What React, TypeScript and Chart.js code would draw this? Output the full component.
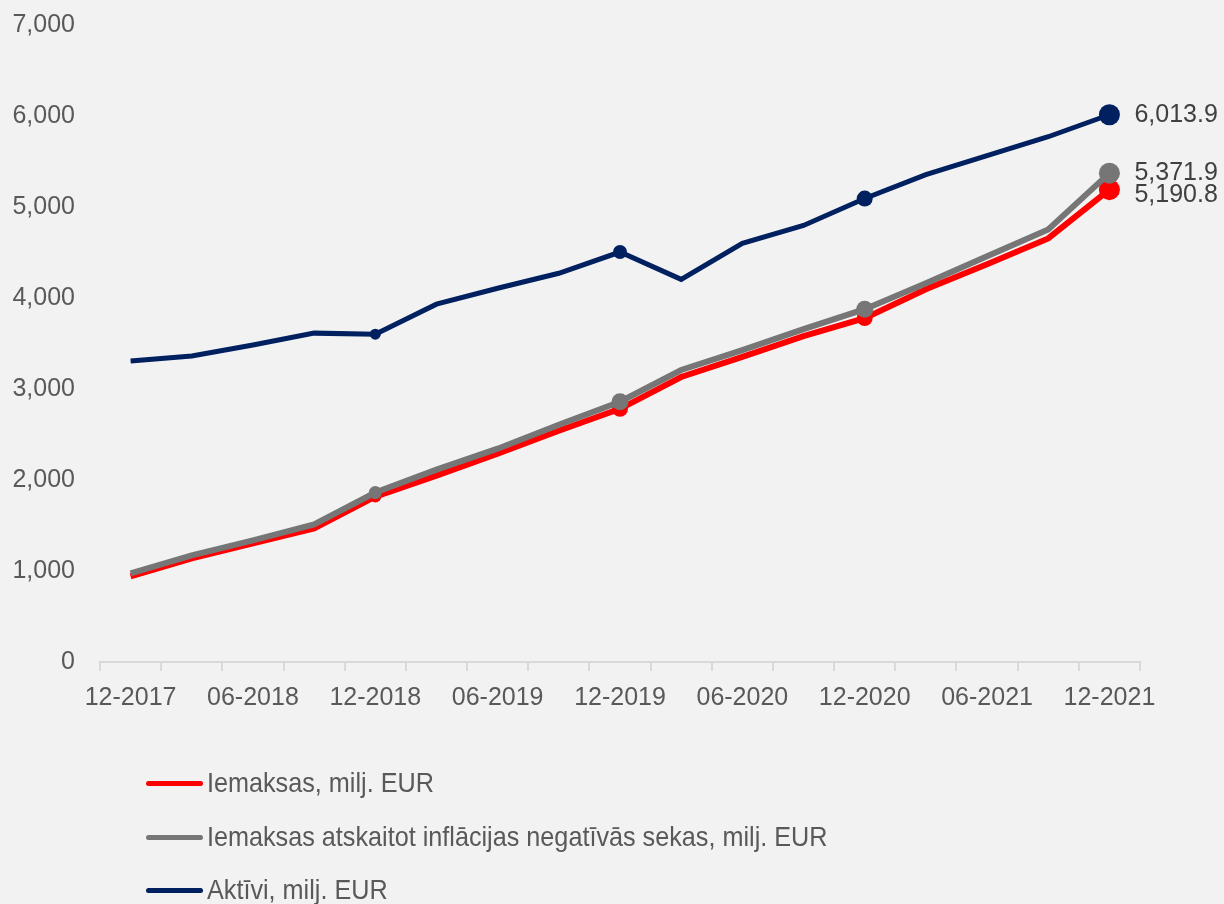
import React, { useEffect, useRef } from "react";
import { Chart, registerables } from "chart.js";

Chart.register(...registerables);

const categories = [
  "12-2017", "03-2018", "06-2018", "09-2018", "12-2018", "03-2019", "06-2019", "09-2019",
  "12-2019", "03-2020", "06-2020", "09-2020", "12-2020", "03-2021", "06-2021", "09-2021", "12-2021",
];
const iemaksas = [942, 1139, 1303, 1468, 1818, 2048, 2289, 2541, 2782, 3132, 3352, 3580, 3779, 4096, 4370, 4655, 5190.8];
const iemaksasInfl = [975, 1172, 1336, 1511, 1862, 2114, 2344, 2607, 2860, 3209, 3428, 3658, 3877, 4162, 4458, 4754, 5371.9];
const aktivi = [3308, 3363, 3483, 3614, 3603, 3932, 4107, 4272, 4505, 4205, 4600, 4797, 5093, 5356, 5564, 5772, 6013.9];

const seriesNames = [
  "Iemaksas, milj. EUR",
  "Iemaksas atskaitot inflācijas negatīvās sekas, milj. EUR",
  "Aktīvi, milj. EUR",
];
const seriesColors = ["#ff0000", "#767676", "#002060"];
const yTicks = [0, 1000, 2000, 3000, 4000, 5000, 6000, 7000];

const fmt = (v: number, d = 0) =>
  v.toLocaleString("en-US", { minimumFractionDigits: d, maximumFractionDigits: d });

const radii = (small: number, mid: number, mid2: number, big: number) =>
  categories.map((_, i) => (i === 4 ? small : i === 8 ? mid : i === 12 ? mid2 : i === 16 ? big : 0));

const labelOffsets = [5, 0, 0];

const endLabels = {
  id: "endLabels",
  afterDatasetsDraw(chart: any) {
    const ctx = chart.ctx;
    ctx.save();
    ctx.font = "25px 'Liberation Sans', Arial, sans-serif";
    ctx.fillStyle = "#404040";
    ctx.textAlign = "left";
    ctx.textBaseline = "middle";
    chart.data.datasets.forEach((ds: any, di: number) => {
      const meta = chart.getDatasetMeta(di);
      const last = meta.data[meta.data.length - 1];
      const v = ds.data[ds.data.length - 1];
      ctx.fillText(fmt(v, 1), last.x + 25, last.y + labelOffsets[di]);
    });
    ctx.restore();
  },
};

export default function App() {
  const ref = useRef<HTMLCanvasElement>(null);
  useEffect(() => {
    if (!ref.current) return;
    const tickFont = { family: "'Liberation Sans', Arial, sans-serif", size: 25 };
    const chart = new Chart(ref.current, {
      type: "line",
      data: {
        labels: categories,
        datasets: [
          {
            label: seriesNames[0],
            data: iemaksas,
            borderColor: seriesColors[0],
            backgroundColor: seriesColors[0],
            borderWidth: 6,
            pointRadius: radii(6, 8, 8, 10.5),
            pointBorderWidth: 0,
            tension: 0,
            order: 3,
          },
          {
            label: seriesNames[1],
            data: iemaksasInfl,
            borderColor: seriesColors[1],
            backgroundColor: seriesColors[1],
            borderWidth: 6,
            pointRadius: radii(6.5, 8.5, 8.5, 10.5),
            pointBorderWidth: 0,
            tension: 0,
            order: 2,
          },
          {
            label: seriesNames[2],
            data: aktivi,
            borderColor: seriesColors[2],
            backgroundColor: seriesColors[2],
            borderWidth: 5,
            pointRadius: radii(5.5, 7, 8, 10.5),
            pointBorderWidth: 0,
            tension: 0,
            order: 1,
          },
        ],
      },
      options: {
        responsive: false,
        animation: false,
        layout: { padding: { left: 0, right: 84, top: 25, bottom: 182 } },
        plugins: {
          legend: { display: false },
          tooltip: { enabled: false },
        },
        scales: {
          x: {
            type: "category",
            offset: true,
            grid: {
              offset: true,
              drawOnChartArea: false,
              drawTicks: true,
              tickLength: 9,
              color: "#d9d9d9",
              lineWidth: 2,
            },
            border: { display: true, color: "#d9d9d9", width: 2 },
            ticks: {
              autoSkip: false,
              maxRotation: 0,
              padding: 12,
              color: "#595959",
              font: tickFont,
              callback: (_v: any, i: number) => (i % 2 === 0 ? categories[i] : ""),
            },
            afterFit: (s: any) => {
              s.height = 60;
              s.paddingLeft = 0;
              s.paddingRight = 0;
            },
          },
          y: {
            min: 0,
            max: 7000,
            grid: { display: false, drawTicks: false },
            border: { display: false },
            afterBuildTicks: (s: any) => {
              s.ticks = yTicks.map((v) => ({ value: v }));
            },
            ticks: {
              padding: 25,
              color: "#595959",
              font: tickFont,
              callback: (v: any) => fmt(Number(v)),
            },
            afterFit: (s: any) => {
              s.width = 100;
              s.paddingTop = 0;
              s.paddingBottom = 0;
            },
          },
        },
      },
      plugins: [endLabels],
    });
    return () => chart.destroy();
  }, []);

  const legendRows = [783, 837, 890];
  return (
    <div
      style={{
        position: "absolute",
        left: 0,
        top: 0,
        width: 1224,
        height: 904,
        background: "#f2f2f2",
        overflow: "hidden",
      }}
    >
      <canvas ref={ref} width={1224} height={904} style={{ position: "absolute", left: 0, top: 0 }} />
      {seriesNames.map((name, i) => (
        <div
          key={name}
          style={{
            position: "absolute",
            left: 146,
            top: legendRows[i] - 20,
            height: 40,
            display: "flex",
            alignItems: "center",
            whiteSpace: "nowrap",
          }}
        >
          <div
            style={{
              width: 57,
              height: 5,
              borderRadius: 3,
              background: seriesColors[i],
              marginRight: 4,
            }}
          />
          <span
            style={{
              fontFamily: "'Liberation Sans', Arial, sans-serif",
              fontSize: 28,
              color: "#595959",
              display: "inline-block",
              transform: "scaleX(0.9)",
              transformOrigin: "left center",
            }}
          >
            {name}
          </span>
        </div>
      ))}
    </div>
  );
}
